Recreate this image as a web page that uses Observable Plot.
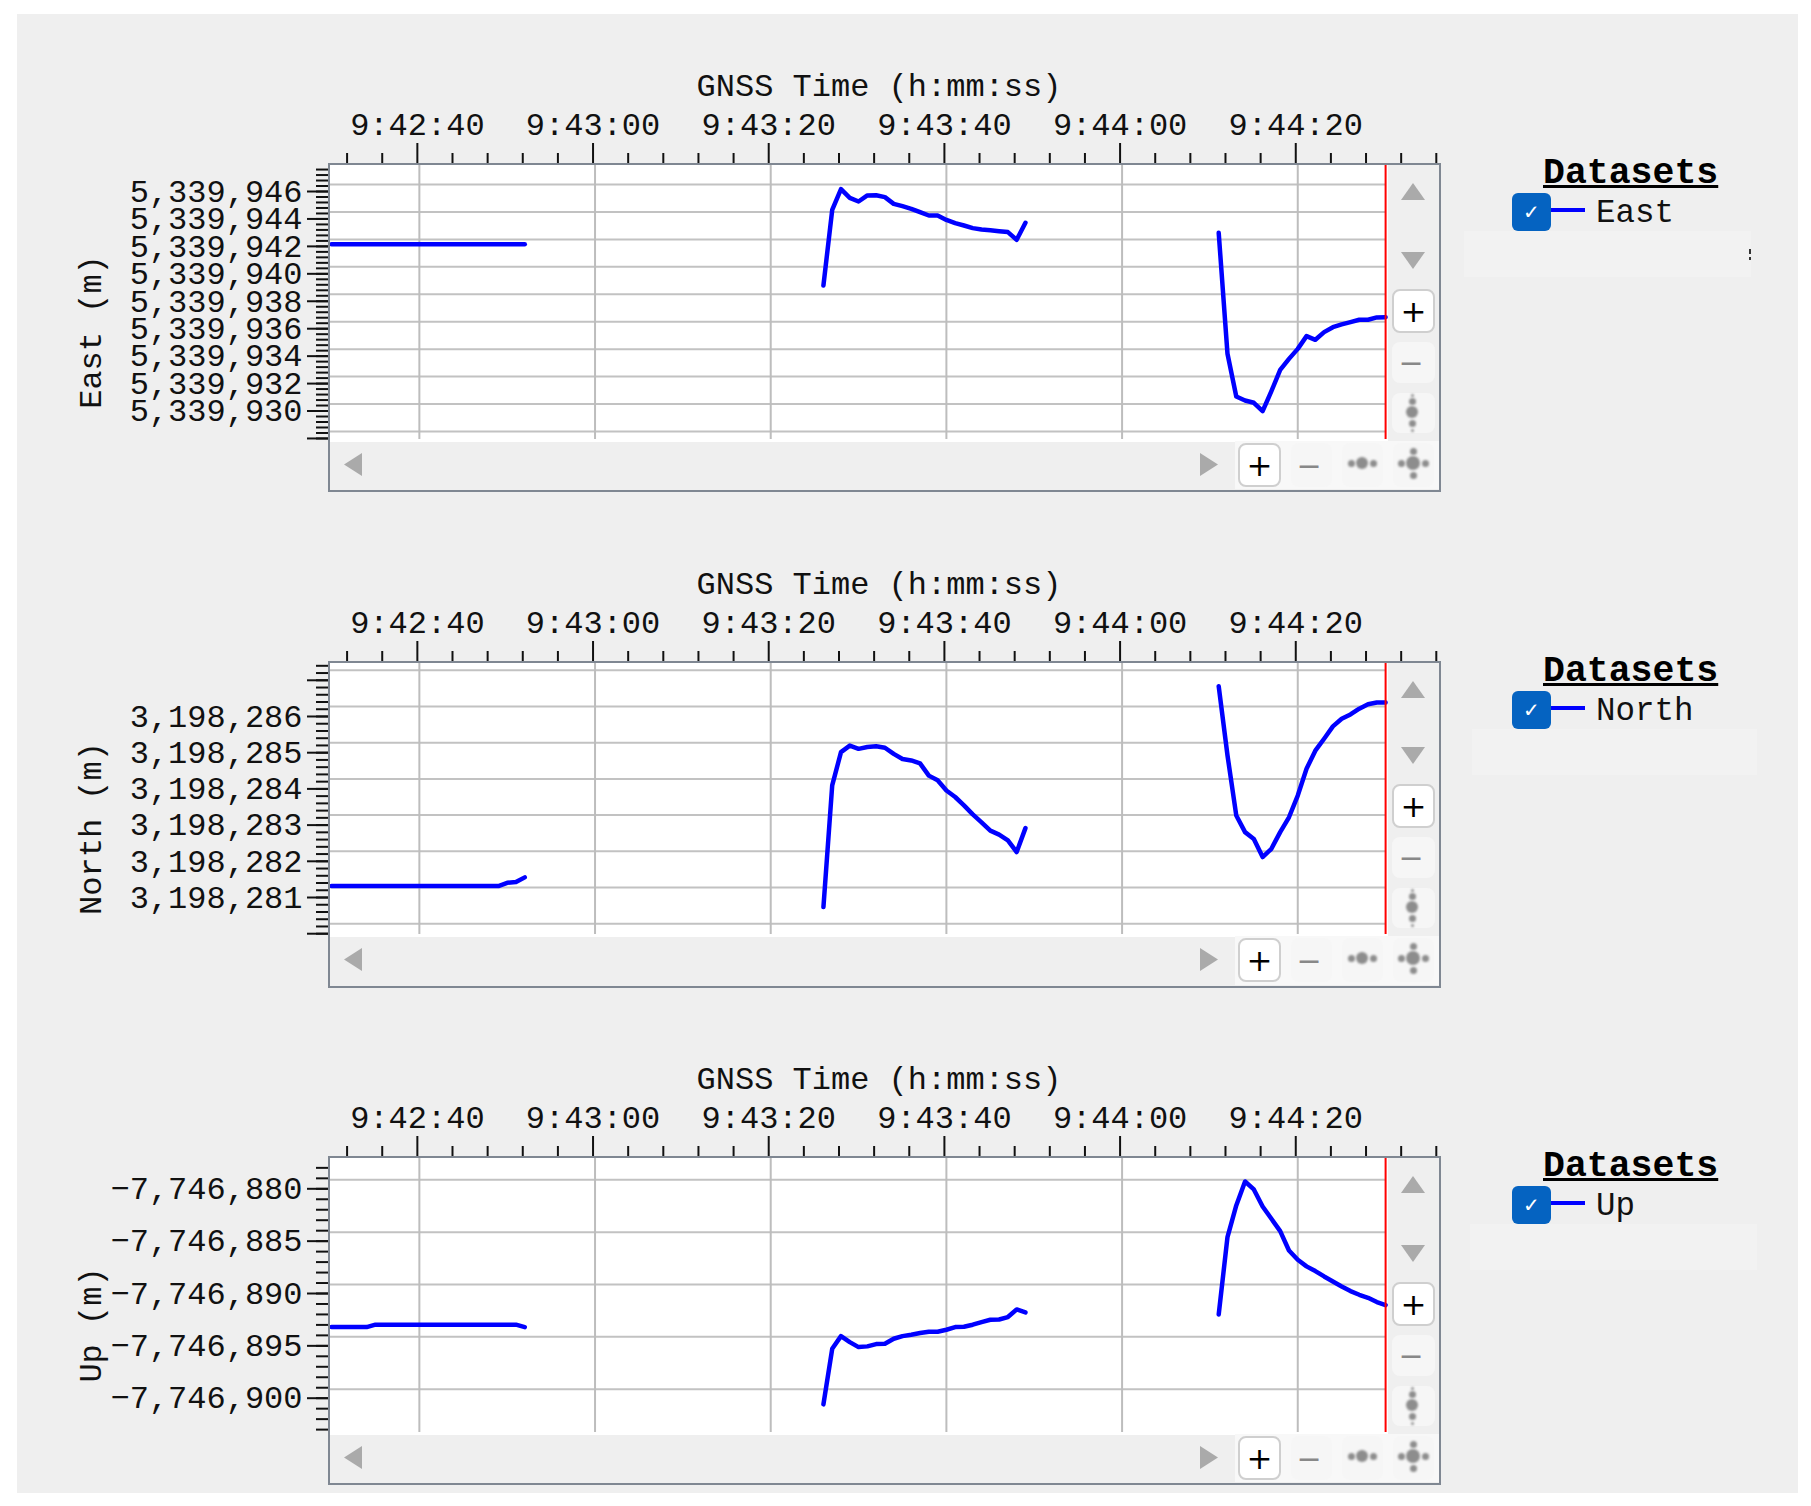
<!DOCTYPE html>
<html>
<head>
<meta charset="utf-8">
<script src="https://cdn.jsdelivr.net/npm/d3@7"></script>
<script src="https://cdn.jsdelivr.net/npm/@observablehq/plot@0.6"></script>
<style>
html,body{margin:0;padding:0;background:#fff;overflow:hidden}
#page{position:relative;width:1811px;height:1506px;overflow:hidden;background:#fff;font-family:"Liberation Mono",monospace;color:#111}
#page svg{position:absolute;left:0}
.b{position:absolute;box-sizing:border-box}
.c{display:flex;align-items:center;justify-content:center;font-family:"DejaVu Sans",sans-serif}
</style>
</head>
<body>
<div id="page"></div>
<script>
// Seconds relative to 9:42:40 for each of the three recorded stretches
const timeA = [-10,-9,-8,-7,-6,-5,-4,-3,-2,-1,0,1,2,3,4,5,6,7,8,9,10,11,12];
const timeB = [46,47,48,49,50,51,52,53,54,55,56,57,58,59,60,61,62,63,64,65,66,67,68,69];
const timeC = [91,92,93,94,95,96,97,98,99,100,101,102,103,104,105,106,107,108,109,110];

const eastA = [5339941.65,5339941.65,5339941.65,5339941.65,5339941.65,5339941.65,5339941.65,5339941.65,5339941.65,5339941.65,5339941.65,5339941.65,5339941.65,5339941.65,5339941.65,5339941.65,5339941.65,5339941.65,5339941.65,5339941.65,5339941.65,5339941.65,5339941.65];
const eastB = [5339938.64,5339944.15,5339945.66,5339945.03,5339944.76,5339945.20,5339945.22,5339945.08,5339944.59,5339944.42,5339944.23,5339943.98,5339943.74,5339943.74,5339943.42,5339943.18,5339943.01,5339942.82,5339942.72,5339942.67,5339942.60,5339942.53,5339941.97,5339943.21];
const eastC = [5339942.48,5339933.66,5339930.55,5339930.26,5339930.09,5339929.48,5339930.94,5339932.49,5339933.29,5339934.02,5339934.95,5339934.68,5339935.24,5339935.60,5339935.80,5339935.97,5339936.14,5339936.14,5339936.31,5339936.33];

const northA = [3198281.04,3198281.04,3198281.04,3198281.04,3198281.04,3198281.04,3198281.04,3198281.04,3198281.04,3198281.04,3198281.04,3198281.04,3198281.04,3198281.04,3198281.04,3198281.04,3198281.04,3198281.04,3198281.04,3198281.04,3198281.13,3198281.15,3198281.28];
const northB = [3198280.46,3198283.82,3198284.74,3198284.92,3198284.83,3198284.88,3198284.90,3198284.86,3198284.69,3198284.55,3198284.51,3198284.43,3198284.09,3198283.96,3198283.68,3198283.50,3198283.27,3198283.02,3198282.80,3198282.57,3198282.46,3198282.30,3198281.98,3198282.64];
const northC = [3198286.56,3198284.65,3198282.99,3198282.53,3198282.34,3198281.84,3198282.07,3198282.53,3198282.94,3198283.54,3198284.28,3198284.78,3198285.11,3198285.45,3198285.66,3198285.78,3198285.94,3198286.06,3198286.11,3198286.11];

const upA = [-7746894.07,-7746894.07,-7746894.07,-7746894.07,-7746894.07,-7746893.84,-7746893.84,-7746893.84,-7746893.84,-7746893.84,-7746893.84,-7746893.84,-7746893.84,-7746893.84,-7746893.84,-7746893.84,-7746893.84,-7746893.84,-7746893.84,-7746893.84,-7746893.84,-7746893.84,-7746894.07];
const upB = [-7746901.45,-7746896.14,-7746894.93,-7746895.50,-7746895.98,-7746895.91,-7746895.69,-7746895.66,-7746895.18,-7746894.93,-7746894.80,-7746894.64,-7746894.51,-7746894.51,-7746894.32,-7746894.07,-7746894.04,-7746893.84,-7746893.59,-7746893.37,-7746893.34,-7746893.11,-7746892.38,-7746892.67];
const upC = [-7746892.86,-7746885.47,-7746882.45,-7746880.16,-7746880.92,-7746882.55,-7746883.72,-7746884.90,-7746886.75,-7746887.64,-7746888.27,-7746888.72,-7746889.23,-7746889.71,-7746890.19,-7746890.63,-7746890.98,-7746891.27,-7746891.68,-7746891.97];

const xMajor = [0,20,40,60,80,100];
const xLabels = ["9:42:40","9:43:00","9:43:20","9:43:40","9:44:00","9:44:20"];
const xMinor = [-8,-4,4,8,12,16,24,28,32,36,44,48,52,56,64,68,72,76,84,88,92,96,104,108,112,116];
const cursorTime = 110;

const eastTicks = [5339946,5339944,5339942,5339940,5339938,5339936,5339934,5339932,5339930];
const eastExtra = [5339928];
const northTicks = [3198286,3198285,3198284,3198283,3198282,3198281];
const northExtra = [3198287,3198280];
const upTicks = [-7746880,-7746885,-7746890,-7746895,-7746900];

const FONT = '"Liberation Mono", monospace';
const fmt = d3.format(",");
const page = document.getElementById("page");

function table(a, b, c) {
  return [
    ...timeA.map((t, i) => ({t, v: a[i], seg: "A"})),
    ...timeB.map((t, i) => ({t, v: b[i], seg: "B"})),
    ...timeC.map((t, i) => ({t, v: c[i], seg: "C"}))
  ];
}

function panel(cfg) {
  const rows = table(...cfg.series);
  const grid = cfg.grid;
  const svg = Plot.plot({
    width: 1811, height: cfg.h,
    marginLeft: 329, marginRight: 371, marginTop: cfg.mt, marginBottom: cfg.mb,
    style: {background: "transparent", fontFamily: FONT, color: "#111", overflow: "visible"},
    x: {type: "linear", domain: [-10.23, 116.25], axis: null},
    y: {domain: cfg.domain, axis: null},
    marks: [
      Plot.frame({fill: "#fff", stroke: "none"}),
      Plot.ruleY(grid, {x1: -10.23, x2: cursorTime, stroke: "#c2c2c2", strokeWidth: 2}),
      Plot.ruleX(xMajor, {stroke: "#bdbdbd", strokeWidth: 2}),
      Plot.line(rows, {x: "t", y: "v", z: "seg", stroke: "#0000ff", strokeWidth: 4.5, curve: "linear"}),
      Plot.ruleX([cursorTime], {stroke: "#ff0000", strokeWidth: 2}),
      // x axis on top
      Plot.axisX(xMinor, {anchor: "top", tickSize: 12, strokeWidth: 2, dx: -2, label: null, tickFormat: () => "", stroke: "#111"}),
      Plot.axisX(xMajor, {anchor: "top", tickSize: 22, strokeWidth: 2, dx: -2, tickPadding: 8, label: null, tickFormat: d => xLabels[xMajor.indexOf(d)], fontSize: 32, fill: "#111", stroke: "#111"}),
      Plot.text(["GNSS Time (h:mm:ss)"], {frameAnchor: "top", dx: -6, dy: cfg.titleDy, fontSize: 32, fontFamily: FONT, fill: "#111", lineAnchor: "bottom"}),
      // y axis on the left
      Plot.axisY(cfg.minor, {anchor: "left", tickSize: 13, strokeWidth: 2, dy: cfg.tickDy, label: null, tickFormat: () => "", stroke: "#111"}),
      Plot.axisY(cfg.major, {anchor: "left", tickSize: 22, strokeWidth: 2, dy: cfg.tickDy, tickPadding: 5, label: null, tickFormat: d => cfg.labelled.includes(d) ? fmt(d) : "", fontSize: 32, fill: "#111", stroke: "#111"}),
      Plot.text([cfg.ylabel], {frameAnchor: "left", textAnchor: "middle", dx: -239, dy: 30, rotate: -90, fontSize: 32, fontFamily: FONT, fill: "#111", lineAnchor: "middle"})
    ]
  });
  svg.style.top = cfg.top + "px";
  page.appendChild(svg);
}

function box(x, y, w, h, css, text) {
  const d = document.createElement("div");
  d.className = "b";
  d.style.cssText = `left:${x}px;top:${y}px;width:${w}px;height:${h}px;${css || ""}`;
  if (text != null) d.textContent = text;
  page.appendChild(d);
  return d;
}
function tri(x, y, w, h, dir) {
  const pts = {up: "50% 0,100% 100%,0 100%", down: "0 0,100% 0,50% 100%", left: "100% 0,100% 100%,0 50%", right: "0 0,100% 50%,0 100%"}[dir];
  box(x, y, w, h, `background:#aaaaaa;clip-path:polygon(${pts});filter:blur(.5px)`);
}
function dot(cx, cy, r) {
  box(cx - r, cy - r, r * 2, r * 2, "background:#8d8d8d;border-radius:50%;filter:blur(.9px)");
}
function btn(x, y, w, h, on, sign) {
  const d = box(x, y, w, h, on
    ? "background:#fff;border:2px solid #cfcfcf;border-radius:8px"
    : "background:#f6f6f6;border-radius:8px");
  if (sign) {
    d.classList.add("c");
    d.style.fontSize = on ? "31px" : "30px";
    d.style.color = on ? "#000" : "#888";
    if (!on) d.style.paddingRight = "5px";
    d.textContent = sign;
  }
}

function chrome(top, inner, bottom, d, legendDy, name, ghost) {
  const L = 329, R = 1440;
  // side strip and bottom strip
  box(1388, top, R - 1388, inner - top + 2, "background:#efefef");
  box(L, inner, 1388 - L, 3, "background:#fff");
  box(L, inner + 3, R - L, bottom - inner - 3, "background:#efefef");
  box(1235, inner + 2, R - 1235, bottom - inner - 4, "background:#f8f8f8");

  tri(1401, top + 19, 24, 17, "up");
  tri(1401, 252 + d, 24, 17, "down");
  btn(1392, 289 + d, 43, 44, true, "+");
  btn(1392, 342 + d, 43, 41, false, "−");
  btn(1392, 393 + d, 43, 40, false, null);
  dot(1412, 412 + d, 6); dot(1412, 401 + d, 3.5); dot(1412, 423 + d, 3.5); dot(1412, 395 + d, 1.5); dot(1412, 430 + d, 1.5);

  tri(344, 453 + d, 18, 23, "left");
  tri(1200, 453 + d, 18, 23, "right");
  btn(1238, 443 + d, 43, 44, true, "+");
  btn(1291, 443 + d, 41, 44, false, "−");
  btn(1342, 443 + d, 41, 44, false, null);
  btn(1393, 443 + d, 41, 44, false, null);
  dot(1362, 463 + d, 6); dot(1351, 463 + d, 3.5); dot(1373, 463 + d, 3.5);
  dot(1413, 463 + d, 7); dot(1401, 463 + d, 3.5); dot(1425, 463 + d, 3.5); dot(1413, 451 + d, 3.5); dot(1413, 475 + d, 3.5);

  // frame
  box(L - 1, top - 1, R - L + 2, bottom - top + 2, "border:2.5px solid #7f8792");

  // legend
  box(1470, 154 + legendDy, 320, 40,
    `font:bold 36.5px ${FONT};text-decoration:underline;color:#000;white-space:pre;padding-left:73px;line-height:40px`,
    "Datasets");
  box(1512, 193 + legendDy, 39, 38, "background:#0563c1;border-radius:6px");
  box(1512, 193 + legendDy, 39, 38, "color:#fff;font:20px 'DejaVu Sans',sans-serif;line-height:38px;text-align:center", "✓");
  box(1551, 207.5 + legendDy, 34, 4, "background:#0000ff");
  box(1596, 195 + legendDy, 160, 38, `font:32.5px ${FONT};line-height:38px;color:#111;white-space:pre`, name);
  box(ghost[0], 231 + legendDy, ghost[1], 46, "background:#f2f2f2");
}

// page background
box(17, 14, 1781, 1479, "background:#efefef");

panel({
  top: 0, h: 500, mt: 164, mb: 61, titleDy: -69,
  series: [eastA, eastB, eastC], ylabel: "East (m)",
  domain: [5339927.414, 5339947.458],
  grid: [...eastTicks, ...eastExtra],
  major: [...eastTicks, ...eastExtra], labelled: eastTicks,
  minor: d3.range(0, 50).map(i => 5339928 + i * 0.4),
  tickDy: 7
});
panel({
  top: 500, h: 500, mt: 162, mb: 66, titleDy: -69,
  series: [northA, northB, northC], ylabel: "North (m)",
  domain: [3198279.702, 3198287.215],
  grid: [...northTicks, ...northExtra],
  major: [...northTicks, ...northExtra], labelled: northTicks,
  minor: d3.range(0, 38).map(i => 3198280 + i * 0.2),
  tickDy: 10
});
panel({
  top: 1000, h: 506, mt: 157, mb: 74, titleDy: -69,
  series: [upA, upB, upC], ylabel: "Up (m)",
  domain: [-7746904.136, -7746877.87],
  grid: upTicks,
  major: upTicks, labelled: upTicks,
  minor: d3.range(0, 26).map(i => -7746903 + i),
  tickDy: 9
});

chrome(164, 439, 491, 0, 0, "East", [1464, 287]);
chrome(662, 934, 987, 495, 498, "North", [1472, 285]);
chrome(1157, 1432, 1484, 993, 993, "Up", [1470, 287]);
box(1749, 249, 2, 5, "background:#333");
box(1749, 257, 2, 3, "background:#333");
</script>
</body>
</html>
